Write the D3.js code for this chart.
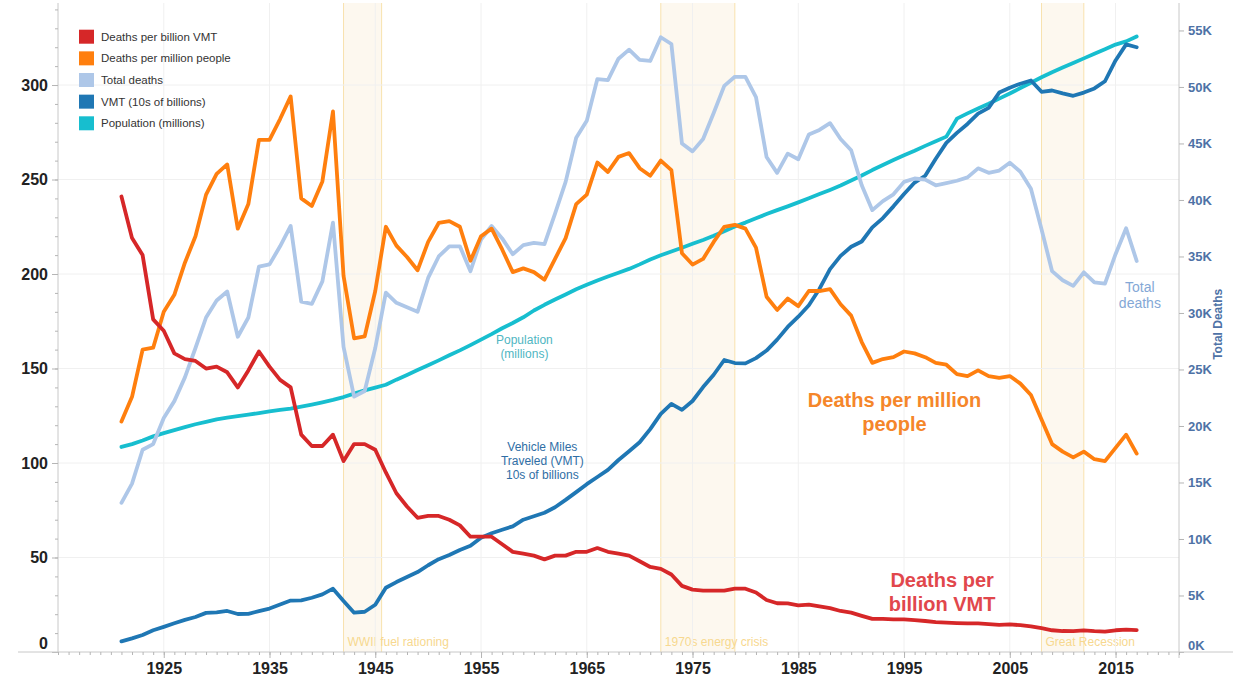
<!DOCTYPE html>
<html><head><meta charset="utf-8">
<script src="https://cdn.jsdelivr.net/npm/d3@7"></script>
<style>
body{margin:0;background:#fff;}
svg{display:block;font-family:"Liberation Sans",Arial,Helvetica,sans-serif;}
</style>
</head><body>
<svg id="chart" width="1233" height="681"></svg>
<script>
// ---------------- DATA ----------------
const years = [1921,1922,1923,1924,1925,1926,1927,1928,1929,1930,
  1931,1932,1933,1934,1935,1936,1937,1938,1939,1940,
  1941,1942,1943,1944,1945,1946,1947,1948,1949,1950,
  1951,1952,1953,1954,1955,1956,1957,1958,1959,1960,
  1961,1962,1963,1964,1965,1966,1967,1968,1969,1970,
  1971,1972,1973,1974,1975,1976,1977,1978,1979,1980,
  1981,1982,1983,1984,1985,1986,1987,1988,1989,1990,
  1991,1992,1993,1994,1995,1996,1997,1998,1999,2000,
  2001,2002,2003,2004,2005,2006,2007,2008,2009,2010,
  2011,2012,2013,2014,2015,2016,2017];

const deathsPerBillionVMT = [241,219,210,176,170,158,155,154,150,151,
  148,140,149,159,151,144,140,115,109,109,
  115,101,110,110,107,95,84,77,71,72,
  72,70,67,61,61,61,57,53,52,51,
  49,51,51,53,53,55,53,52,51,48,
  45,44,41,35,33,32.5,32.5,32.5,33.5,33.5,
  31.5,27.5,25.8,25.7,24.7,25.1,24.1,23.2,21.7,20.8,
  19.1,17.5,17.5,17.3,17.3,16.9,16.4,15.8,15.5,15.3,
  15.1,15.1,14.8,14.4,14.6,14.2,13.6,12.6,11.5,11.1,
  11.0,11.4,11.0,10.8,11.5,11.8,11.6];

const deathsPerMillionPeople = [122,135,160,161,180,189,206,220,242,253,
  258,224,237,271,271,282,294,240,236,249,
  286,199,166,167,191,225,215,209,202,217,
  227,228,225,207,220,224,213,201,203,201,
  197,208,219,237,242,259,254,262,264,256,
  252,260,255,211,205,208,217,225,226,224,
  214,188,181,187,183,191,191,192,184,178,
  164,153,155,156,159,158,156,153,152,147,
  146,149,146,145,146,142,136,123,110,106,
  103,106,102,101,108,115,105];

const totalDeaths = [13200,14900,17900,18400,20700,22200,24300,26900,29600,31100,
  31900,27900,29600,34100,34300,35900,37700,31000,30800,32800,
  38000,27000,22600,23100,26900,31800,30900,30500,30100,33100,
  35000,35900,35900,33700,36500,37700,36600,35200,36000,36200,
  36100,38800,41600,45500,47000,50700,50600,52500,53300,52400,
  52300,54400,53800,45000,44300,45400,47700,50100,50900,50900,
  49100,43800,42400,44100,43600,45800,46200,46800,45400,44400,
  41300,39100,39900,40500,41600,41900,41800,41300,41500,41700,
  42000,42800,42400,42600,43300,42500,41000,37400,33700,32900,
  32400,33600,32700,32600,35200,37500,34600];

const vmtTensOfBillions = [5.6,7.2,9.0,11.5,13.3,15.2,17.0,18.5,20.7,21.0,
  21.7,20.1,20.2,21.6,23.0,25.1,27.2,27.3,28.7,30.5,
  33.5,27.0,20.8,21.3,25.0,34.0,37.0,39.7,42.3,45.9,
  49.1,51.3,54.0,56.2,60.5,62.8,64.7,66.5,70.0,71.8,
  73.7,76.6,80.5,84.6,88.8,92.6,96.4,101.6,106.2,111.0,
  117.9,126.0,131.3,128.1,132.8,140.2,146.7,154.5,152.9,152.7,
  155.5,159.5,165.3,172.0,177.4,183.5,192.1,202.6,209.6,214.4,
  217.2,224.7,229.6,235.8,242.3,248.4,252.0,261.0,269.4,274.7,
  279.4,284.9,287.9,296.0,298.6,300.7,302.4,296.4,297.1,295.6,
  294.3,296.0,298.2,302.0,313.0,321.5,320.0];

const populationMillions = [108.5,110.0,111.9,114.1,115.8,117.4,119.0,120.5,121.8,123.1,
  124.0,124.8,125.6,126.4,127.3,128.1,128.8,129.8,130.9,132.1,
  133.4,134.9,136.7,138.4,139.9,141.4,144.1,146.6,149.2,151.7,
  154.3,157.0,159.6,162.4,165.3,168.2,171.3,174.1,177.1,180.7,
  183.7,186.5,189.2,191.9,194.3,196.6,198.7,200.7,202.7,205.1,
  207.7,209.9,211.9,213.9,216.0,218.0,220.2,222.6,225.1,227.2,
  229.5,231.7,233.8,235.8,237.9,240.1,242.3,244.5,246.8,249.5,
  252.1,255.0,257.7,260.3,262.8,265.2,267.8,270.2,272.7,282.2,
  285.0,287.6,290.1,292.8,295.5,298.4,301.2,304.1,306.8,309.3,
  311.7,314.1,316.5,318.9,321.4,323.1,325.7];

const xTickYears = [1925,1935,1945,1955,1965,1975,1985,1995,2005,2015];
const leftTicks = [0,50,100,150,200,250,300];
const rightTicks = [0,5000,10000,15000,20000,25000,30000,35000,40000,45000,50000,55000];
const rightTickLabels = ["0K","5K","10K","15K","20K","25K","30K","35K","40K","45K","50K","55K"];

const bandLabels = ["WWII fuel rationing","1970s energy crisis","Great Recession"];
const bandStarts = [1942, 1972, 2008];
const bandEnds = [1945.6, 1979, 2012];

const legendLabels = ["Deaths per billion VMT","Deaths per million people","Total deaths","VMT (10s of billions)","Population (millions)"];
const colors = {red:"#d62728", orange:"#ff7f0e", lightBlue:"#aec7e8", blue:"#1f77b4", cyan:"#17becf"};

// ---------------- CHART ----------------
const svg = d3.select("#chart");
const L = 58, R = 1179, T = 3, B = 652;

const x = d3.scaleLinear().domain([1915, 2021]).range([L, R]);
const yL = d3.scaleLinear().domain([0, 343.4]).range([B, T]);
const yR = d3.scaleLinear().domain([0, 57430]).range([B, T]);

// bands
const bandG = svg.append("g");
bandStarts.forEach((s, i) => {
  const x0 = x(s), x1 = x(bandEnds[i]);
  bandG.append("rect").attr("x", x0).attr("y", T).attr("width", x1 - x0).attr("height", B - T)
    .attr("fill", "#fdf8ef");
  [x0, x1].forEach(xx => bandG.append("line").attr("x1", xx).attr("x2", xx).attr("y1", T).attr("y2", B)
    .attr("stroke", "#f8e2ae").attr("stroke-width", 1));
  bandG.append("text").attr("x", x0 + 4).attr("y", 646).attr("font-size", 12)
    .attr("fill", "#f7d88f").text(bandLabels[i]);
});

// gridlines
const grid = svg.append("g");
xTickYears.forEach(yr => grid.append("line").attr("x1", x(yr)).attr("x2", x(yr)).attr("y1", T).attr("y2", B)
  .attr("stroke", "#f0f0f0").attr("stroke-width", 1));
leftTicks.filter(v => v > 0).forEach(v => grid.append("line").attr("x1", L).attr("x2", R).attr("y1", yL(v)).attr("y2", yL(v))
  .attr("stroke", "#f0f0f0").attr("stroke-width", 1));

// axes
function styleAxis(g) {
  g.select(".domain").attr("stroke", "#c8c8c8");
  g.selectAll(".tick line").attr("stroke", "#b5b5b5");
}
const leftMinor = svg.append("g").attr("transform", `translate(${L},0)`)
  .call(d3.axisLeft(yL).tickValues(d3.range(0, 341, 10)).tickSize(3).tickFormat("").tickSizeOuter(0));
styleAxis(leftMinor);
leftMinor.select(".domain").attr("d", `M0,${T}V${B}`);
const leftAxis = svg.append("g").attr("transform", `translate(${L},0)`)
  .call(d3.axisLeft(yL).tickValues(leftTicks).tickSize(6).tickPadding(4).tickSizeOuter(0));
styleAxis(leftAxis);
leftAxis.select(".domain").remove();
leftAxis.selectAll("text").attr("font-size", 16).attr("font-weight", "bold").attr("fill", "#222")
  .attr("font-family", '"Liberation Sans",Arial,sans-serif');
leftAxis.selectAll(".tick").filter(d => d === 0).select("text").attr("dy", "-0.25em");

const rightAxis = svg.append("g").attr("transform", `translate(${R},0)`)
  .call(d3.axisRight(yR).tickValues(rightTicks).tickSize(5).tickPadding(4).tickSizeOuter(0)
    .tickFormat((d, i) => rightTickLabels[i]));
styleAxis(rightAxis);
rightAxis.select(".domain").attr("d", `M0,${T}V${B + 6}`);
rightAxis.selectAll("text").attr("font-size", 13).attr("font-weight", "bold").attr("fill", "#4e72a6")
  .attr("font-family", '"Liberation Sans",Arial,sans-serif');
rightAxis.selectAll(".tick").filter(d => d === 0).select("text").attr("dy", "-0.2em");
svg.append("text").attr("transform", `translate(1222,${yR(29000)}) rotate(-90)`)
  .attr("text-anchor", "middle").attr("font-size", 12).attr("font-weight", "bold")
  .attr("fill", "#4e72a6").text("Total Deaths");

const bottomMinor = svg.append("g").attr("transform", `translate(0,${B})`)
  .call(d3.axisBottom(x).tickValues(d3.range(1915, 2022, 1)).tickSize(3).tickFormat("").tickSizeOuter(0));
styleAxis(bottomMinor);
bottomMinor.select(".domain").attr("d", `M${L - 40},0H${R + 54}`);
const bottomAxis = svg.append("g").attr("transform", `translate(0,${B})`)
  .call(d3.axisBottom(x).tickValues(xTickYears).tickSize(6).tickPadding(5).tickFormat(d3.format("d")).tickSizeOuter(0));
styleAxis(bottomAxis);
bottomAxis.select(".domain").remove();
bottomAxis.selectAll("text").attr("font-size", 16).attr("font-weight", "bold").attr("fill", "#222")
  .attr("font-family", '"Liberation Sans",Arial,sans-serif');

// lines
const rows = years.map((yr, i) => ({year: yr, red: deathsPerBillionVMT[i], orange: deathsPerMillionPeople[i],
  total: totalDeaths[i], vmt: vmtTensOfBillions[i], pop: populationMillions[i]}));
const series = [
  {key: "pop", scale: yL, color: colors.cyan},
  {key: "vmt", scale: yL, color: colors.blue},
  {key: "total", scale: yR, color: colors.lightBlue},
  {key: "orange", scale: yL, color: colors.orange},
  {key: "red", scale: yL, color: colors.red}
];
series.forEach(s => {
  const line = d3.line().x(d => x(d.year)).y(d => s.scale(d[s.key]));
  svg.append("path").datum(rows).attr("d", line).attr("fill", "none")
    .attr("stroke", s.color).attr("stroke-width", 3.8)
    .attr("stroke-linejoin", "round").attr("stroke-linecap", "round");
});

// annotations
function label(lines, cx, cy, size, color, weight, lh) {
  const t = svg.append("text").attr("text-anchor", "middle").attr("font-size", size)
    .attr("font-weight", weight).attr("fill", color);
  lines.forEach((ln, i) => t.append("tspan").attr("x", cx).attr("y", cy + i * lh).text(ln));
}
label(["Population", "(millions)"], x(1959.1), yL(163.2), 12, "#4fb6c2", "normal", 14);
label(["Vehicle Miles", "Traveled (VMT)", "10s of billions"], x(1960.8), yL(106.5), 12, "#2f6ea5", "normal", 14.3);
label(["Deaths per million", "people"], x(1994.1), yL(129.8), 20, "#f5862a", "bold", 24.5);
label(["Deaths per", "billion VMT"], x(1998.6), yL(34.3), 20, "#e1474c", "bold", 24);
label(["Total", "deaths"], x(2017.3), yR(31900), 14, "#84a8d6", "normal", 16);

// legend
const lg = svg.append("g");
legendLabels.forEach((t, i) => {
  const cy = 36.7 + i * 21.65;
  const c = [colors.red, colors.orange, colors.lightBlue, colors.blue, colors.cyan][i];
  lg.append("rect").attr("x", 79).attr("y", cy - 7).attr("width", 15).attr("height", 14).attr("fill", c);
  lg.append("text").attr("x", 101).attr("y", cy).attr("dy", "0.35em").attr("font-size", 11.5)
    .attr("fill", "#333").text(t);
});
</script>
</body></html>
